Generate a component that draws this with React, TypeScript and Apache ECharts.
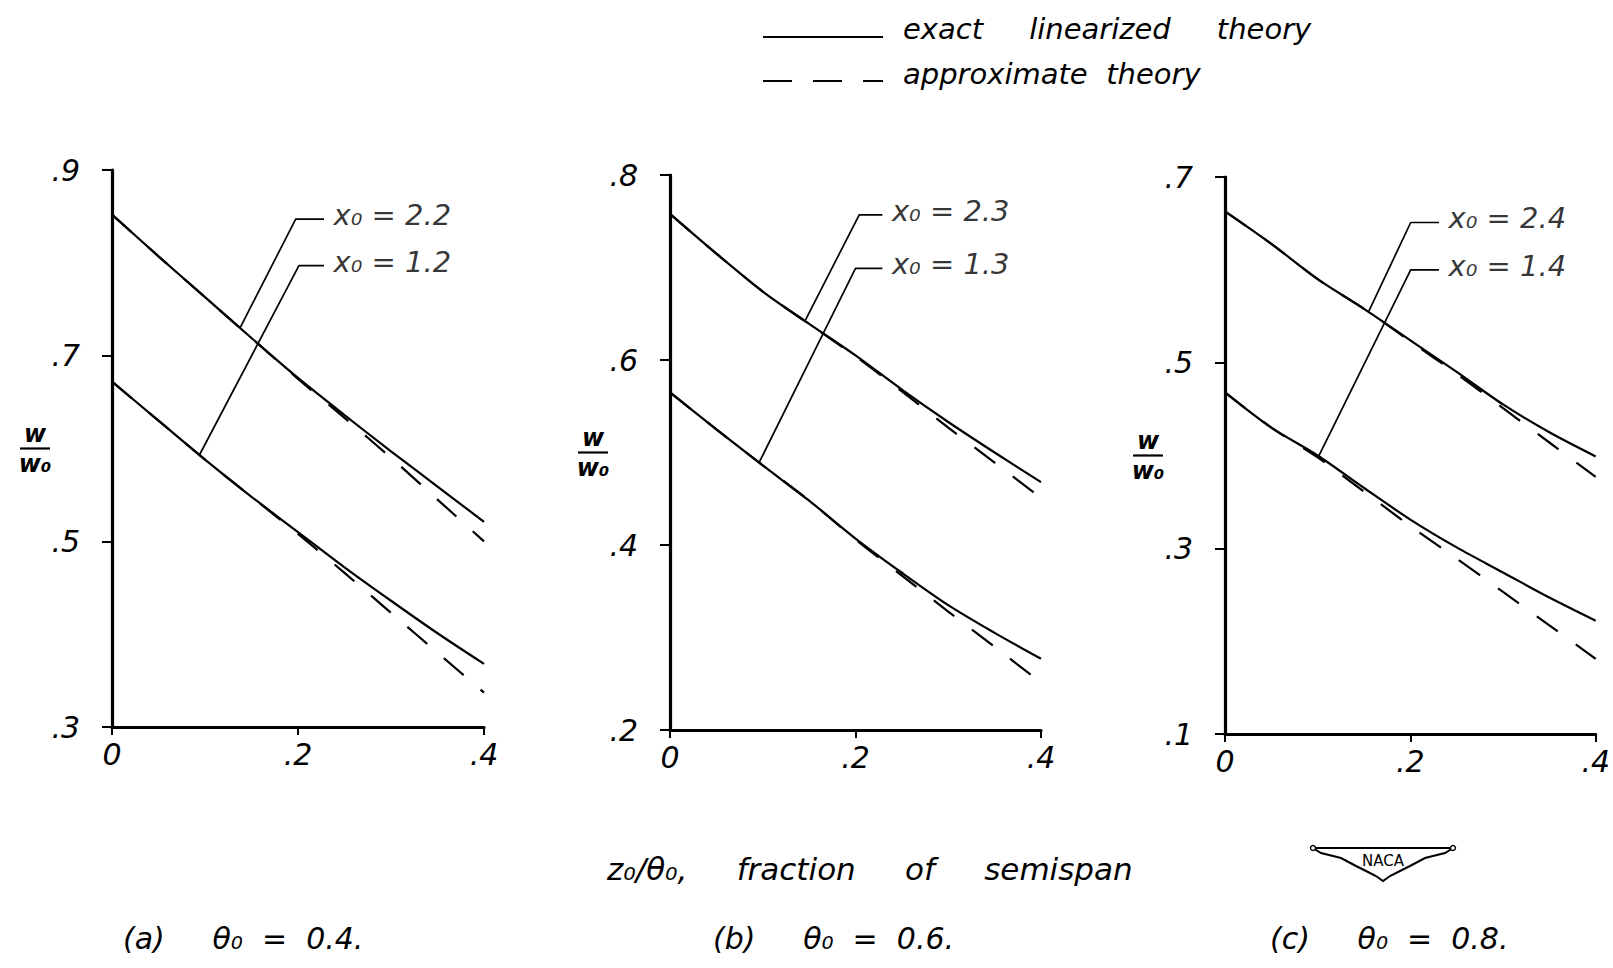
import React, { useEffect, useRef } from "react";
import * as echarts from "echarts";

// ---------- data ----------
const xs = [0, 0.05, 0.1, 0.15, 0.2, 0.25, 0.3, 0.35, 0.4];

const aUpperExact = [0.852, 0.807, 0.763, 0.719, 0.676, 0.636, 0.597, 0.559, 0.521];
const aUpperApprox = [0.852, 0.807, 0.763, 0.719, 0.675, 0.633, 0.59, 0.545, 0.5];
const aLowerExact = [0.672, 0.63, 0.588, 0.548, 0.51, 0.472, 0.436, 0.401, 0.368];
const aLowerApprox = [0.672, 0.63, 0.588, 0.548, 0.508, 0.466, 0.423, 0.38, 0.337];

const bUpperExact = [0.758, 0.715, 0.674, 0.639, 0.605, 0.568, 0.533, 0.5, 0.468];
const bUpperApprox = [0.758, 0.715, 0.674, 0.639, 0.604, 0.566, 0.527, 0.489, 0.451];
const bLowerExact = [0.565, 0.525, 0.486, 0.448, 0.407, 0.37, 0.335, 0.305, 0.277];
const bLowerApprox = [0.565, 0.525, 0.486, 0.448, 0.406, 0.367, 0.328, 0.29, 0.251];

const cUpperExact = [0.663, 0.628, 0.59, 0.558, 0.524, 0.49, 0.455, 0.425, 0.399];
const cUpperApprox = [0.663, 0.628, 0.59, 0.558, 0.523, 0.488, 0.451, 0.414, 0.377];
const cLowerExact = [0.468, 0.43, 0.4, 0.365, 0.331, 0.301, 0.274, 0.247, 0.222];
const cLowerApprox = [0.468, 0.43, 0.398, 0.361, 0.324, 0.289, 0.253, 0.217, 0.181];

const xTicks = [0, 0.2, 0.4];
const aYTicks = [0.3, 0.5, 0.7, 0.9];
const bYTicks = [0.2, 0.4, 0.6, 0.8];
const cYTicks = [0.1, 0.3, 0.5, 0.7];

// leader lines: [horizontal end, elbow, point on curve]
const aLeaderUpper = [[0.228, 0.847], [0.1975, 0.847], [0.1377, 0.73]];
const aLeaderLower = [[0.228, 0.797], [0.201, 0.797], [0.094, 0.593]];
const bLeaderUpper = [[0.229, 0.757], [0.204, 0.757], [0.146, 0.643]];
const bLeaderLower = [[0.229, 0.699], [0.2, 0.699], [0.096, 0.489]];
const cLeaderUpper = [[0.231, 0.651], [0.2004, 0.651], [0.155, 0.555]];
const cLeaderLower = [[0.231, 0.6], [0.2004, 0.6], [0.101, 0.399]];

const aLabels = ["x₀ = 2.2", "x₀ = 1.2"];
const bLabels = ["x₀ = 2.3", "x₀ = 1.3"];
const cLabels = ["x₀ = 2.4", "x₀ = 1.4"];

const captions = ["(a)     θ₀  =  0.4.", "(b)     θ₀  =  0.6.", "(c)     θ₀  =  0.8."];
const legendExact = "exact     linearized     theory";
const legendApprox = "approximate  theory";
const xTitle = "z₀/θ₀,     fraction     of     semispan";

// ---------- layout ----------
const FONT = "'DejaVu Sans', 'Liberation Sans', sans-serif";
const grids = [
  { left: 112, top: 170, width: 372, height: 557 },
  { left: 670, top: 175, width: 371, height: 555 },
  { left: 1225, top: 177, width: 371, height: 557 },
];
const yRanges = [
  [0.3, 0.9],
  [0.2, 0.8],
  [0.1, 0.7],
];
const captionX = [123, 713, 1270];

const panels = [
  { up: aUpperExact, upA: aUpperApprox, lo: aLowerExact, loA: aLowerApprox, ticks: aYTicks, lu: aLeaderUpper, ll: aLeaderLower, labels: aLabels },
  { up: bUpperExact, upA: bUpperApprox, lo: bLowerExact, loA: bLowerApprox, ticks: bYTicks, lu: bLeaderUpper, ll: bLeaderLower, labels: bLabels },
  { up: cUpperExact, upA: cUpperApprox, lo: cLowerExact, loA: cLowerApprox, ticks: cYTicks, lu: cLeaderUpper, ll: cLeaderLower, labels: cLabels },
];

const fmt = (v: number) => (v === 0 ? "0" : v.toFixed(1).replace(/^0/, ""));

function buildOption() {
  const series: any[] = [];
  panels.forEach((p, i) => {
    const pts = (arr: number[]) => xs.map((x, k) => [x, arr[k]]);
    const base = {
      type: "line",
      xAxisIndex: i,
      yAxisIndex: i,
      symbol: "none",
      silent: true,
    };
    series.push({ ...base, data: pts(p.upA), smooth: 0.3, lineStyle: { color: "#000", width: 2.2, type: [26, 22] } });
    series.push({ ...base, data: pts(p.loA), smooth: 0.3, lineStyle: { color: "#000", width: 2.2, type: [26, 22] } });
    series.push({ ...base, data: pts(p.up), smooth: 0.3, lineStyle: { color: "#000", width: 2.2 } });
    series.push({ ...base, data: pts(p.lo), smooth: 0.3, lineStyle: { color: "#000", width: 2.2 } });
    series.push({ ...base, data: p.lu, lineStyle: { color: "#000", width: 1.7 } });
    series.push({ ...base, data: p.ll, lineStyle: { color: "#000", width: 1.7 } });
    series.push({
      type: "scatter",
      xAxisIndex: i,
      yAxisIndex: i,
      symbolSize: 1,
      silent: true,
      itemStyle: { color: "rgba(0,0,0,0)" },
      data: [
        { value: p.lu[0], name: p.labels[0] },
        { value: p.ll[0], name: p.labels[1] },
      ],
      label: {
        show: true,
        position: "right",
        distance: 9,
        offset: [0, -4],
        formatter: (d: any) => d.name,
        fontSize: 29,
        fontStyle: "italic",
        fontFamily: FONT,
        color: "#000",
      },
    });
  });

  const axisLineStyle = { color: "#000", width: 3.2 };
  const labelStyle = { fontSize: 30, fontStyle: "italic", fontFamily: FONT, color: "#000" };

  const txt = (x: number, y: number, text: string, size: number, extra: any = {}) => ({
    type: "text",
    x,
    y,
    style: { text, font: `italic ${size}px ${FONT}`, fill: "#000", verticalAlign: "middle", ...extra },
  });

  const graphic: any[] = [
    // legend
    { type: "line", shape: { x1: 763, y1: 37, x2: 883, y2: 37 }, style: { stroke: "#000", lineWidth: 2.2 } },
    txt(903, 29, legendExact, 29),
    { type: "line", shape: { x1: 763, y1: 81, x2: 883, y2: 81 }, style: { stroke: "#000", lineWidth: 2.2, lineDash: [29, 21] } },
    txt(903, 74, legendApprox, 29),
    // x title
    txt(607, 869, xTitle, 31),
    // NACA logo
    {
      type: "polygon",
      shape: {
        points: [
          [1313, 848], [1453, 848], [1445, 853], [1425, 858], [1410, 866], [1398, 872], [1390, 876], [1383, 881],
          [1376, 876], [1368, 872], [1356, 866], [1341, 858], [1321, 853],
        ],
      },
      style: { stroke: "#000", lineWidth: 2, fill: "none" },
    },
    { type: "circle", shape: { cx: 1313, cy: 848, r: 2.5 }, style: { stroke: "#000", lineWidth: 1.4, fill: "#fff" } },
    { type: "circle", shape: { cx: 1453, cy: 848, r: 2.5 }, style: { stroke: "#000", lineWidth: 1.4, fill: "#fff" } },
    { type: "text", x: 1383, y: 861, style: { text: "NACA", font: `15px ${FONT}`, fill: "#000", align: "center", verticalAlign: "middle" } },
  ];
  captions.forEach((c, i) => graphic.push(txt(captionX[i], 938, c, 30)));
  grids.forEach((g) => {
    const cx = g.left - 77;
    const cy = g.top + g.height / 2;
    graphic.push({ type: "text", x: cx, y: cy - 3, style: { text: "w", font: `italic bold 24px ${FONT}`, fill: "#000", align: "center", verticalAlign: "bottom" } });
    graphic.push({ type: "line", shape: { x1: cx - 15, y1: cy, x2: cx + 15, y2: cy }, style: { stroke: "#000", lineWidth: 2.2 } });
    graphic.push({ type: "text", x: cx, y: cy + 3, style: { text: "w₀", font: `italic bold 24px ${FONT}`, fill: "#000", align: "center", verticalAlign: "top" } });
  });

  return {
    animation: false,
    backgroundColor: "#fff",
    grid: grids.map((g) => ({ ...g, containLabel: false })),
    xAxis: grids.map((_, i) => ({
      type: "value",
      gridIndex: i,
      min: 0,
      max: 0.4,
      axisLine: { show: true, onZero: false, lineStyle: axisLineStyle },
      axisTick: { show: true, customValues: xTicks, length: 8, lineStyle: { color: "#000", width: 2 } },
      axisLabel: { ...labelStyle, customValues: xTicks, formatter: fmt, margin: 12, showMinLabel: true, showMaxLabel: true },
      splitLine: { show: false },
    })),
    yAxis: grids.map((_, i) => ({
      type: "value",
      gridIndex: i,
      min: yRanges[i][0],
      max: yRanges[i][1],
      axisLine: { show: true, onZero: false, lineStyle: axisLineStyle },
      axisTick: { show: true, customValues: panels[i].ticks, length: 10, lineStyle: { color: "#000", width: 2 } },
      axisLabel: {
        ...labelStyle,
        customValues: panels[i].ticks,
        formatter: fmt,
        margin: 32,
        padding: [0, 0, 10, 0],
        showMinLabel: true,
        showMaxLabel: true,
      },
      splitLine: { show: false },
    })),
    series,
    graphic,
  };
}

export default function App() {
  const ref = useRef<HTMLDivElement>(null);
  useEffect(() => {
    if (!ref.current) return;
    const chart = echarts.init(ref.current, null, { renderer: "svg" });
    chart.setOption(buildOption() as any);
    return () => chart.dispose();
  }, []);
  return (
    <div
      ref={ref}
      style={{ position: "fixed", left: 0, top: 0, width: 1613, height: 968, background: "#fff" }}
    />
  );
}
